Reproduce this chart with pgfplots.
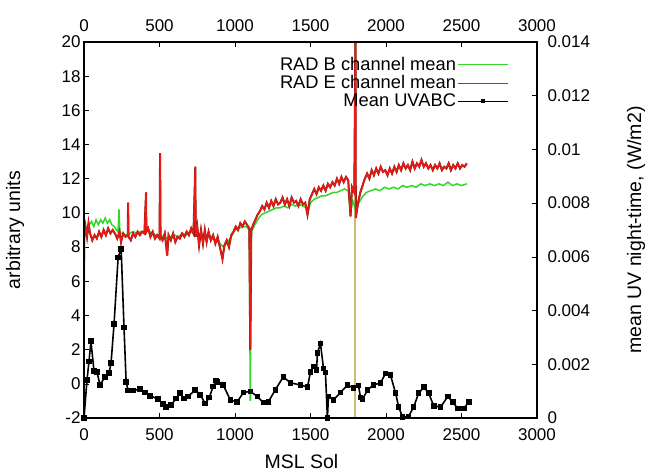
\documentclass[border=0pt]{standalone}
\usepackage{fontspec}
\setmainfont{Liberation Sans}
\usepackage{pgfplots}
\usepackage{pgfplotstable}
\pgfplotsset{compat=1.18}
\definecolor{radb}{RGB}{50,215,40}
\definecolor{rade}{RGB}{235,25,20}
\definecolor{radedark}{RGB}{130,25,20}
\definecolor{radeleg}{RGB}{165,50,50}
\definecolor{tanline}{RGB}{210,185,120}

% RAD E channel mean
\pgfplotstableread{
sol val
0 8.5
10 9.2
20 8.6
30 9.4
40 8.8
55 8.4
70 8.7
85 8.5
100 8.9
115 8.6
130 9.0
145 8.7
160 9.1
175 8.8
190 9.0
205 8.8
220 8.5
235 8.9
245 8.3
260 8.8
275 8.6
290 8.7
292 10.6
295 8.6
310 8.4
325 8.8
340 8.6
355 8.9
370 8.7
385 8.9
400 8.8
411 11.2
413 8.9
425 9.1
440 8.6
455 8.9
470 8.5
485 8.7
500 8.5
504 13.5
507 8.6
520 8.4
535 8.8
551 7.5
560 8.7
575 8.4
590 8.8
605 8.3
620 8.6
635 8.5
650 8.8
665 8.6
680 8.9
695 8.7
710 9.1
725 8.8
737 12.7
740 8.6
750 9.2
762 8.1
775 9.0
788 8.2
800 9.0
812 8.3
825 8.9
840 8.4
855 8.7
870 8.2
885 8.6
900 8.0
917 7.3
930 8.1
945 8.4
960 8.0
975 8.7
990 8.9
1005 9.2
1020 9.0
1035 9.4
1050 9.2
1065 9.5
1080 9.3
1095 9.1
1101 2.0
1108 9.0
1120 9.3
1135 9.6
1150 9.9
1165 10.1
1180 10.4
1195 10.2
1210 10.6
1225 10.3
1240 10.7
1255 10.4
1270 10.8
1285 10.5
1300 10.6
1315 10.9
1330 10.5
1345 10.8
1360 10.4
1375 10.9
1390 10.6
1405 10.7
1420 10.4
1435 10.8
1450 10.5
1465 10.6
1480 9.9
1495 10.8
1510 11.1
1525 11.4
1540 11.1
1555 11.5
1570 11.3
1585 11.6
1600 11.3
1615 11.7
1630 11.5
1645 11.8
1660 11.6
1675 12.0
1690 11.7
1705 12.1
1720 11.8
1735 12.1
1750 11.9
1765 9.8
1775 11.5
1790 11.2
1798 21.0
1800 9.7
1815 10.6
1830 11.2
1845 11.6
1860 12.0
1875 12.3
1890 12.0
1905 12.5
1920 12.2
1935 12.6
1950 12.3
1965 12.7
1980 12.4
1995 12.5
2010 12.2
2025 12.6
2040 12.3
2055 12.7
2070 12.4
2085 12.8
2100 12.5
2115 12.9
2130 12.6
2145 12.8
2160 12.5
2175 13.0
2190 12.6
2205 12.9
2220 12.7
2235 13.1
2250 12.7
2265 12.9
2280 12.6
2295 12.8
2310 12.5
2325 12.8
2340 12.6
2355 12.9
2370 12.5
2385 12.7
2400 12.6
2415 12.9
2430 12.5
2445 12.8
2460 12.6
2475 12.9
2490 12.6
2505 12.8
2520 12.7
2535 12.9
}\radE

\begin{document}
\begin{tikzpicture}[font=\fontsize{17}{20}\selectfont]
\useasboundingbox (-84pt,-55pt) rectangle (564pt,418pt);
\pgfplotsset{
  every axis/.append style={
    scale only axis, width=453pt, height=376pt,
    at={(0pt,0pt)}, anchor=south west,
    xmin=0, xmax=3000,
    xtick={0,500,...,3000},
    axis line style={line width=1.1pt},
    major tick length=5pt,
    tick style={line width=0.6pt, black},
    label style={font=\fontsize{19.5}{22}\selectfont},
    /pgf/number format/assume math mode=true,
    /pgf/number format/1000 sep={},
  },
}
% left axis: RAD channels
\begin{axis}[
  ymin=-2, ymax=20, ytick={-2,0,...,20},
  xtick pos=both, xticklabel pos=left,
  ytick pos=left, yticklabel pos=left,
  xticklabel style={yshift=-7pt},
  xlabel={MSL Sol}, ylabel={arbitrary units},
  xlabel style={at={(axis description cs:0.48,-0.117)}, anchor=center},
  ylabel style={at={(axis description cs:-0.152,0.5)}, anchor=center},
]
\addplot[tanline, line width=2pt, forget plot] coordinates {(1798,-2) (1798,20)};
% RAD B channel mean
\addplot[radb, line width=1.5pt, forget plot] coordinates {
(0,4.0)(5,8.8)(20,9.0)(35,9.3)(50,9.5)(65,9.2)(80,9.6)(95,9.3)(110,9.6)(125,9.4)
(140,9.7)(155,9.4)(170,9.6)(185,9.3)(200,9.2)(215,9.0)(225,8.9)(232,10.2)(238,8.8)
(255,8.8)(275,8.7)(300,8.8)(325,8.9)(350,8.8)(375,8.9)(400,8.9)(425,9.0)(450,8.8)
(475,8.7)(500,8.7)(525,8.6)(550,8.5)(575,8.6)(600,8.7)(625,8.6)(650,8.8)(675,8.7)
(700,8.9)(725,8.8)(750,8.9)(775,8.7)(800,8.6)(825,8.7)(850,8.5)(875,8.4)(900,8.2)
(925,8.0)(950,8.3)(975,8.6)(1000,9.0)(1025,9.1)(1050,9.2)(1075,9.2)(1095,9.0)
(1101,-1.0)(1108,8.9)(1125,9.2)(1150,9.6)(1175,9.9)(1200,10.0)(1225,10.1)(1250,10.2)
(1275,10.3)(1300,10.3)(1325,10.4)(1350,10.3)(1375,10.5)(1400,10.4)(1425,10.5)
(1450,10.4)(1475,10.3)(1480,9.9)(1500,10.6)(1525,10.8)(1550,10.9)(1575,11.0)
(1600,11.0)(1625,11.1)(1650,11.2)(1675,11.2)(1700,11.3)(1725,11.4)(1750,11.3)
(1765,10.0)(1780,10.7)(1798,10.2)(1815,10.5)(1840,10.9)(1870,11.2)(1900,11.3)
(1930,11.4)(1960,11.3)(1990,11.5)(2020,11.4)(2050,11.5)(2080,11.4)(2110,11.6)
(2140,11.5)(2170,11.6)(2200,11.5)(2230,11.7)(2260,11.6)(2290,11.7)(2320,11.6)
(2350,11.7)(2380,11.6)(2410,11.8)(2440,11.6)(2470,11.7)(2500,11.6)(2535,11.7)
};
% RAD E channel mean: dark edge, red core
\addplot[radedark, line width=2pt, forget plot] table[x=sol, y=val] {\radE};
\addplot[rade, line width=1.4pt, forget plot] table[x=sol, y=val] {\radE};
\end{axis}
% right axis: UV
\begin{axis}[
  ymin=0, ymax=0.014, scaled y ticks=false,
  ytick={0,0.002,0.004,0.006,0.008,0.01,0.012,0.014},
  yticklabels={0,0.002,0.004,0.006,0.008,0.01,0.012,0.014},
  xtick pos=right, xticklabel pos=right,
  ytick pos=right, yticklabel pos=right,
  xticklabel style={yshift=7pt},
  yticklabel style={xshift=7pt},
  ylabel={mean UV night-time, (W/m2)},
  ylabel style={at={(axis description cs:1.219,0.5)}, anchor=center},
  legend style={at={(axis description cs:0.945,0.97)}, anchor=north east,
    draw=none, fill=none, legend cell align=right, row sep=-0.5pt,
    font=\fontsize{18.3}{20}\selectfont},
  legend plot pos=right,
  legend image code/.code={\draw[mark repeat=2,mark phase=2,#1]
    plot coordinates {(0pt,0pt)(25pt,0pt)(50pt,0pt)};},
]
\addlegendimage{radb, line width=0.8pt}
\addlegendentry{RAD B channel mean}
\addlegendimage{radeleg, line width=0.8pt}
\addlegendentry{RAD E channel mean}
\addlegendimage{black, line width=0.9pt, mark=square*, mark size=1.5pt}
\addlegendentry{Mean UVABC}
\addplot[black, line width=1.6pt, mark=square*, mark size=2pt, forget plot] coordinates {
(0,0)(20,0.00142)(33,0.00210)(46,0.00286)(66,0.00176)(86,0.00172)(106,0.00123)
(139,0.00153)(166,0.00168)(179,0.00204)(199,0.00350)(226,0.00598)(246,0.00630)
(265,0.00337)(279,0.00134)(292,0.00102)(325,0.00102)(372,0.00108)(405,0.00095)
(438,0.00083)(491,0.00070)(524,0.00051)(544,0.00041)(577,0.00048)(610,0.00073)
(637,0.00092)(664,0.00073)(690,0.00080)(737,0.00105)(770,0.00086)(803,0.00054)
(829,0.00076)(856,0.00118)(876,0.00140)(883,0.00134)(922,0.00123)(969,0.00067)
(1015,0.00060)(1055,0.00095)(1102,0.00099)(1148,0.00080)(1188,0.00057)
(1221,0.00060)(1267,0.00105)(1320,0.00153)(1367,0.00131)(1433,0.00123)
(1480,0.00115)(1500,0.00172)(1520,0.00191)(1540,0.00178)(1546,0.00242)
(1566,0.00277)(1586,0.00185)(1599,0.00169)(1612,0)(1619,0.00080)(1652,0.00067)
(1699,0.00095)(1745,0.00123)(1785,0.00111)(1818,0.00121)(1831,0.00076)
(1845,0.00070)(1878,0.00105)(1918,0.00123)(1964,0.00131)(1997,0.00166)
(2030,0.00159)(2064,0.00092)(2084,0.00041)(2110,0.00003)(2150,0.00006)
(2183,0.00041)(2216,0.00092)(2250,0.00115)(2283,0.00092)(2316,0.00045)
(2362,0.00041)(2409,0.00080)(2442,0.00060)(2475,0.00035)(2515,0.00035)
(2548,0.00060)
};
\end{axis}
\end{tikzpicture}
\end{document}
